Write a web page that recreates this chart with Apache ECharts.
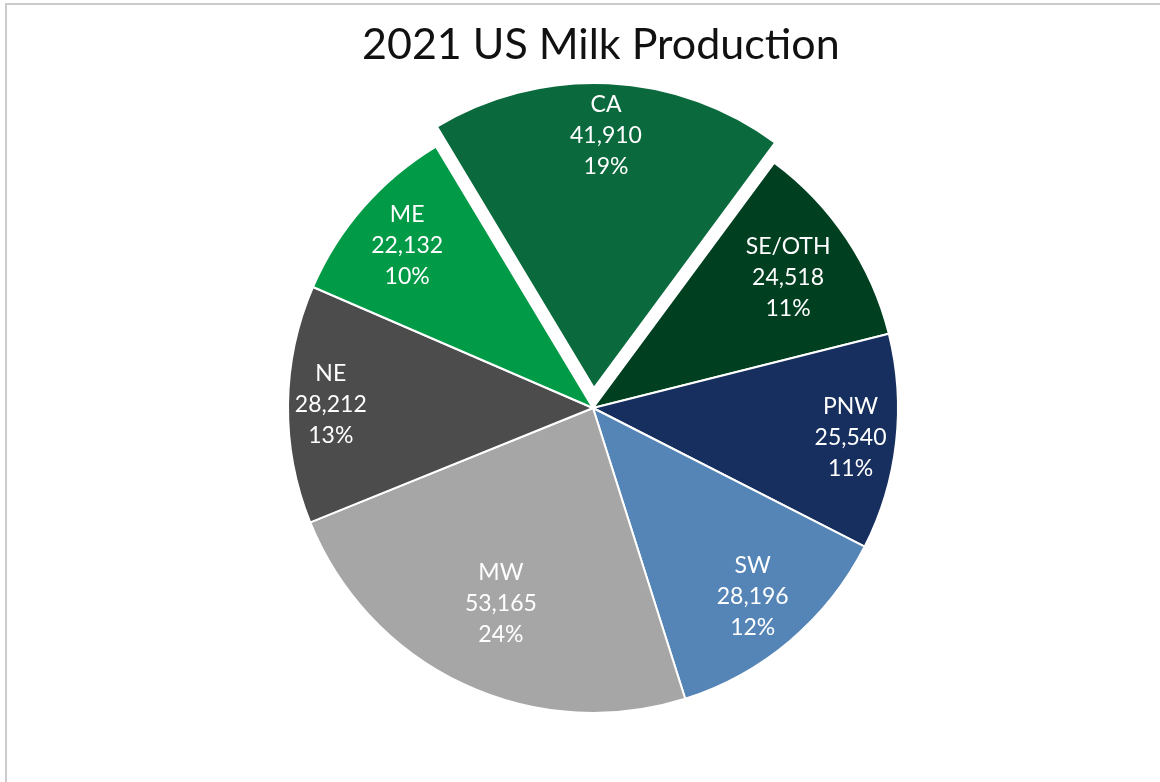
<!DOCTYPE html>
<html>
<head>
<meta charset="utf-8">
<script src="https://cdn.jsdelivr.net/npm/echarts@6/dist/echarts.min.js"></script>
<style>
  html, body { margin: 0; padding: 0; background: #fff; }
  #frame { position: absolute; left: 5px; top: 3px; width: 1200px; height: 800px;
           border-top: 2px solid #cbcbcb; border-left: 2px solid #cbcbcb; }
  #chart { position: absolute; left: 0; top: 0; width: 1160px; height: 782px; }
</style>
</head>
<body>
<div id="frame"></div>
<div id="chart"></div>
<script>
// ---- data ----
const titleText = '2021 US Milk Production';
const regions = ['CA', 'SE/OTH', 'PNW', 'SW', 'MW', 'NE', 'ME'];
const production = [41910, 24518, 25540, 28196, 53165, 28212, 22132];
const explodedRegion = 'CA';

// ---- styling ----
const sliceColors = ['#0a6a3d', '#013f21', '#172f5e', '#5585b6', '#a6a6a6', '#4c4c4c', '#019a47'];
const labelRadiusRatio = [0.82, 0.76, 0.84, 0.80, 0.70, 0.85, 0.80];
const pieCenter = [593, 408];
const pieRadius = 305;
const baseLabelRatio = 0.8;

const chart = echarts.init(document.getElementById('chart'), null, { renderer: 'canvas' });

const pieData = regions.map((name, i) => ({
  name: name,
  value: production[i],
  selected: name === explodedRegion,
  itemStyle: { color: sliceColors[i] }
}));

const labelData = regions.map((name, i) => ({
  name: name,
  value: production[i],
  selected: name === explodedRegion,
  itemStyle: { color: 'rgba(0,0,0,0)', borderWidth: 0 }
}));

const common = {
  type: 'pie',
  center: pieCenter,
  startAngle: 121,
  clockwise: true,
  selectedMode: 'single',
  selectedOffset: 20,
  percentPrecision: 0,
  avoidLabelOverlap: false,
  animation: false,
  emphasis: { disabled: true }
};

const innerLabelR = pieRadius * (2 * baseLabelRatio - 1);

chart.setOption({
  backgroundColor: 'transparent',
  title: {
    text: titleText,
    left: 357,
    top: 19,
    textStyle: { fontFamily: 'Lato', fontSize: 43, fontWeight: 'normal', color: '#111' }
  },
  series: [
    Object.assign({}, common, {
      radius: [0, pieRadius],
      itemStyle: { borderColor: '#fff', borderWidth: 2 },
      label: { show: false },
      labelLine: { show: false },
      data: pieData
    }),
    Object.assign({}, common, {
      radius: [innerLabelR, pieRadius],
      silent: true,
      z: 5,
      label: {
        show: true,
        position: 'inside',
        color: '#fff',
        fontFamily: 'Lato',
        fontSize: 23,
        lineHeight: 31,
        textBorderWidth: 0,
        formatter: p => p.name + '\n' + p.value.toLocaleString('en-US') + '\n' + p.percent + '%'
      },
      labelLine: { show: false },
      labelLayout: function (params) {
        const r = params.labelRect;
        const cx = r.x + r.width / 2 - pieCenter[0];
        const cy = r.y + r.height / 2 - pieCenter[1];
        const d = Math.sqrt(cx * cx + cy * cy) || 1;
        const shift = (labelRadiusRatio[params.dataIndex] - baseLabelRatio) * pieRadius;
        return { dx: cx / d * shift, dy: cy / d * shift };
      },
      data: labelData
    })
  ]
});
</script>
</body>
</html>
